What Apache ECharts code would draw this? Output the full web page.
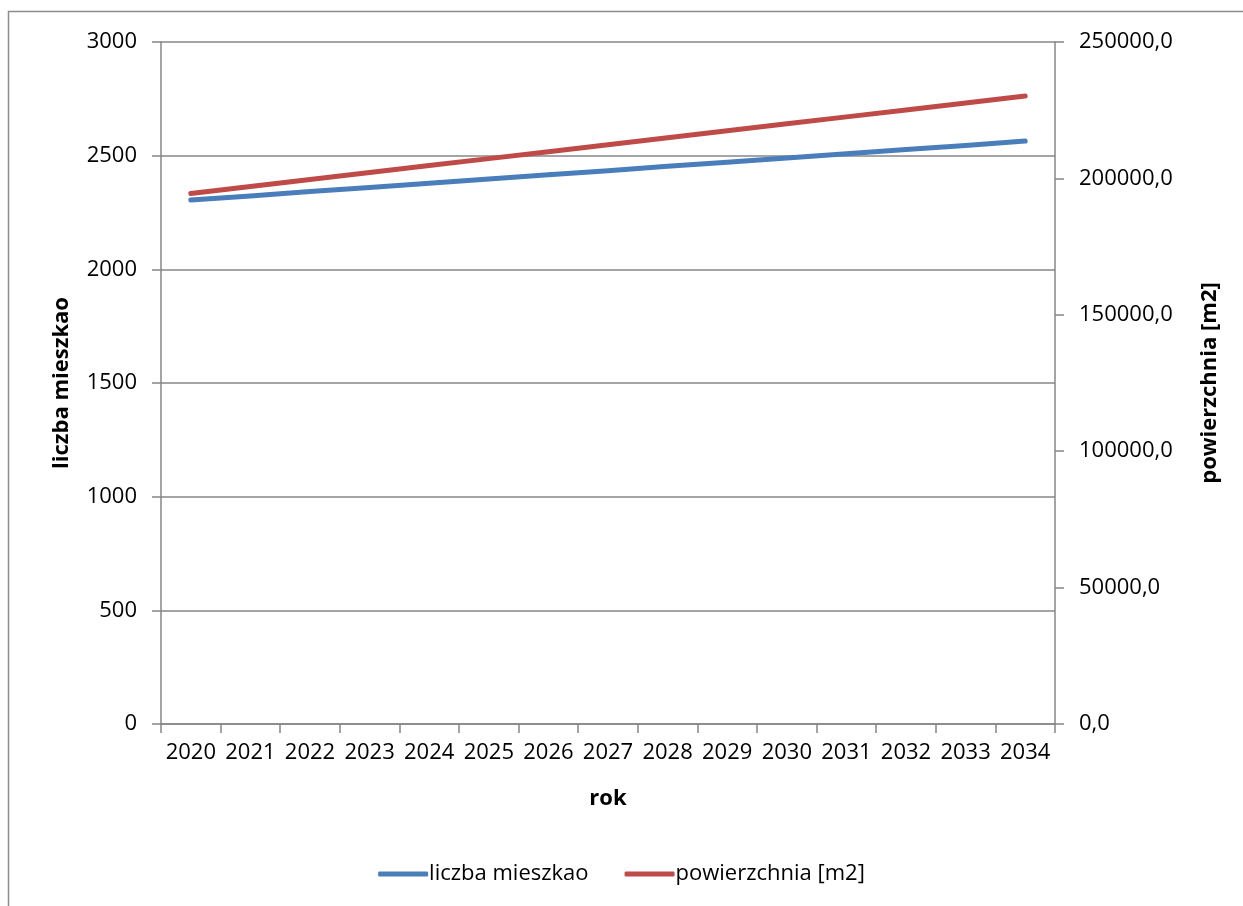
<!DOCTYPE html>
<html>
<head>
<meta charset="utf-8">
<script src="https://cdn.jsdelivr.net/npm/echarts@6/dist/echarts.min.js"></script>
<style>
  html, body { margin: 0; padding: 0; background: #fff; }
  #chart { width: 1243px; height: 906px; }
</style>
</head>
<body>
<div id="chart"></div>
<script>
// Years on the horizontal axis
const years = ['2020','2021','2022','2023','2024','2025','2026','2027','2028','2029','2030','2031','2032','2033','2034'];
// Number of residents (left axis)
const residents = [2305, 2323, 2342, 2360, 2379, 2397, 2416, 2434, 2453, 2471, 2490, 2508, 2527, 2545, 2564];
// Floor area in m2 (right axis)
const area = [194500, 197050, 199600, 202150, 204700, 207250, 209800, 212350, 214900, 217450, 220000, 222550, 225100, 227650, 230200];

const seriesNames = ['liczba mieszkao', 'powierzchnia [m2]'];
const FONT = '"Open Sans", Lato, sans-serif';
const AXIS_GREY = '#878787';
const TICK_SIZE = 22;

const chart = echarts.init(document.getElementById('chart'), null, { renderer: 'canvas' });

chart.setOption({
  animation: false,
  textStyle: { fontFamily: FONT, color: '#000' },
  graphic: [{
    type: 'rect',
    shape: { x: 8.5, y: 11.5, width: 1300, height: 1000 },
    style: { fill: 'none', stroke: '#8c8c8c', lineWidth: 1.5 },
    silent: true
  }],
  grid: { left: 161, right: 188, top: 42, bottom: 182, containLabel: false },
  legend: {
    bottom: 16,
    left: 'center',
    itemWidth: 50,
    itemHeight: 5,
    itemGap: 36,
    icon: 'roundRect',
    textStyle: { fontFamily: FONT, fontSize: TICK_SIZE, color: '#000', padding: [0, 0, 0, -4] },
    data: seriesNames
  },
  xAxis: {
    type: 'category',
    data: years,
    boundaryGap: true,
    name: 'rok',
    nameLocation: 'middle',
    nameGap: 64,
    nameTextStyle: { fontFamily: FONT, fontSize: 22, fontWeight: 'bold', color: '#000' },
    axisLine: { lineStyle: { color: AXIS_GREY, width: 1.5 } },
    axisTick: { show: true, alignWithLabel: false, length: 9, lineStyle: { color: AXIS_GREY, width: 1.5 } },
    axisLabel: { fontFamily: FONT, fontSize: TICK_SIZE, color: '#000', margin: 18, interval: 0 },
    splitLine: { show: false }
  },
  yAxis: [{
    type: 'value',
    min: 0,
    max: 3000,
    interval: 500,
    position: 'left',
    name: seriesNames[0],
    nameLocation: 'middle',
    nameRotate: 90,
    nameGap: 88,
    nameTextStyle: { fontFamily: FONT, fontSize: 22, fontWeight: 'bold', color: '#000' },
    axisLine: { show: true, lineStyle: { color: AXIS_GREY, width: 1.5 } },
    axisTick: { show: true, length: 9, lineStyle: { color: AXIS_GREY, width: 1.5 } },
    axisLabel: {
      fontFamily: FONT, fontSize: TICK_SIZE, color: '#000', margin: 24,
      formatter: v => String(v)
    },
    splitLine: { show: true, lineStyle: { color: AXIS_GREY, width: 1.5 } }
  }, {
    type: 'value',
    min: 0,
    max: 250000,
    interval: 50000,
    position: 'right',
    name: seriesNames[1],
    nameLocation: 'middle',
    nameRotate: 90,
    nameGap: 144,
    nameTextStyle: { fontFamily: FONT, fontSize: 22, fontWeight: 'bold', color: '#000' },
    axisLine: { show: true, lineStyle: { color: AXIS_GREY, width: 1.5 } },
    axisTick: { show: true, length: 9, lineStyle: { color: AXIS_GREY, width: 1.5 } },
    axisLabel: {
      fontFamily: FONT, fontSize: TICK_SIZE, color: '#000', margin: 24,
      formatter: v => v.toFixed(1).replace('.', ',')
    },
    splitLine: { show: false }
  }],
  series: [{
    name: seriesNames[0],
    type: 'line',
    yAxisIndex: 0,
    data: residents,
    showSymbol: false,
    symbol: 'none',
    color: '#4A7EBB',
    lineStyle: { width: 5, color: '#4A7EBB', cap: 'round', join: 'round' }
  }, {
    name: seriesNames[1],
    type: 'line',
    yAxisIndex: 1,
    data: area,
    showSymbol: false,
    symbol: 'none',
    color: '#BE4B48',
    lineStyle: { width: 5, color: '#BE4B48', cap: 'round', join: 'round' }
  }]
});
</script>
</body>
</html>
